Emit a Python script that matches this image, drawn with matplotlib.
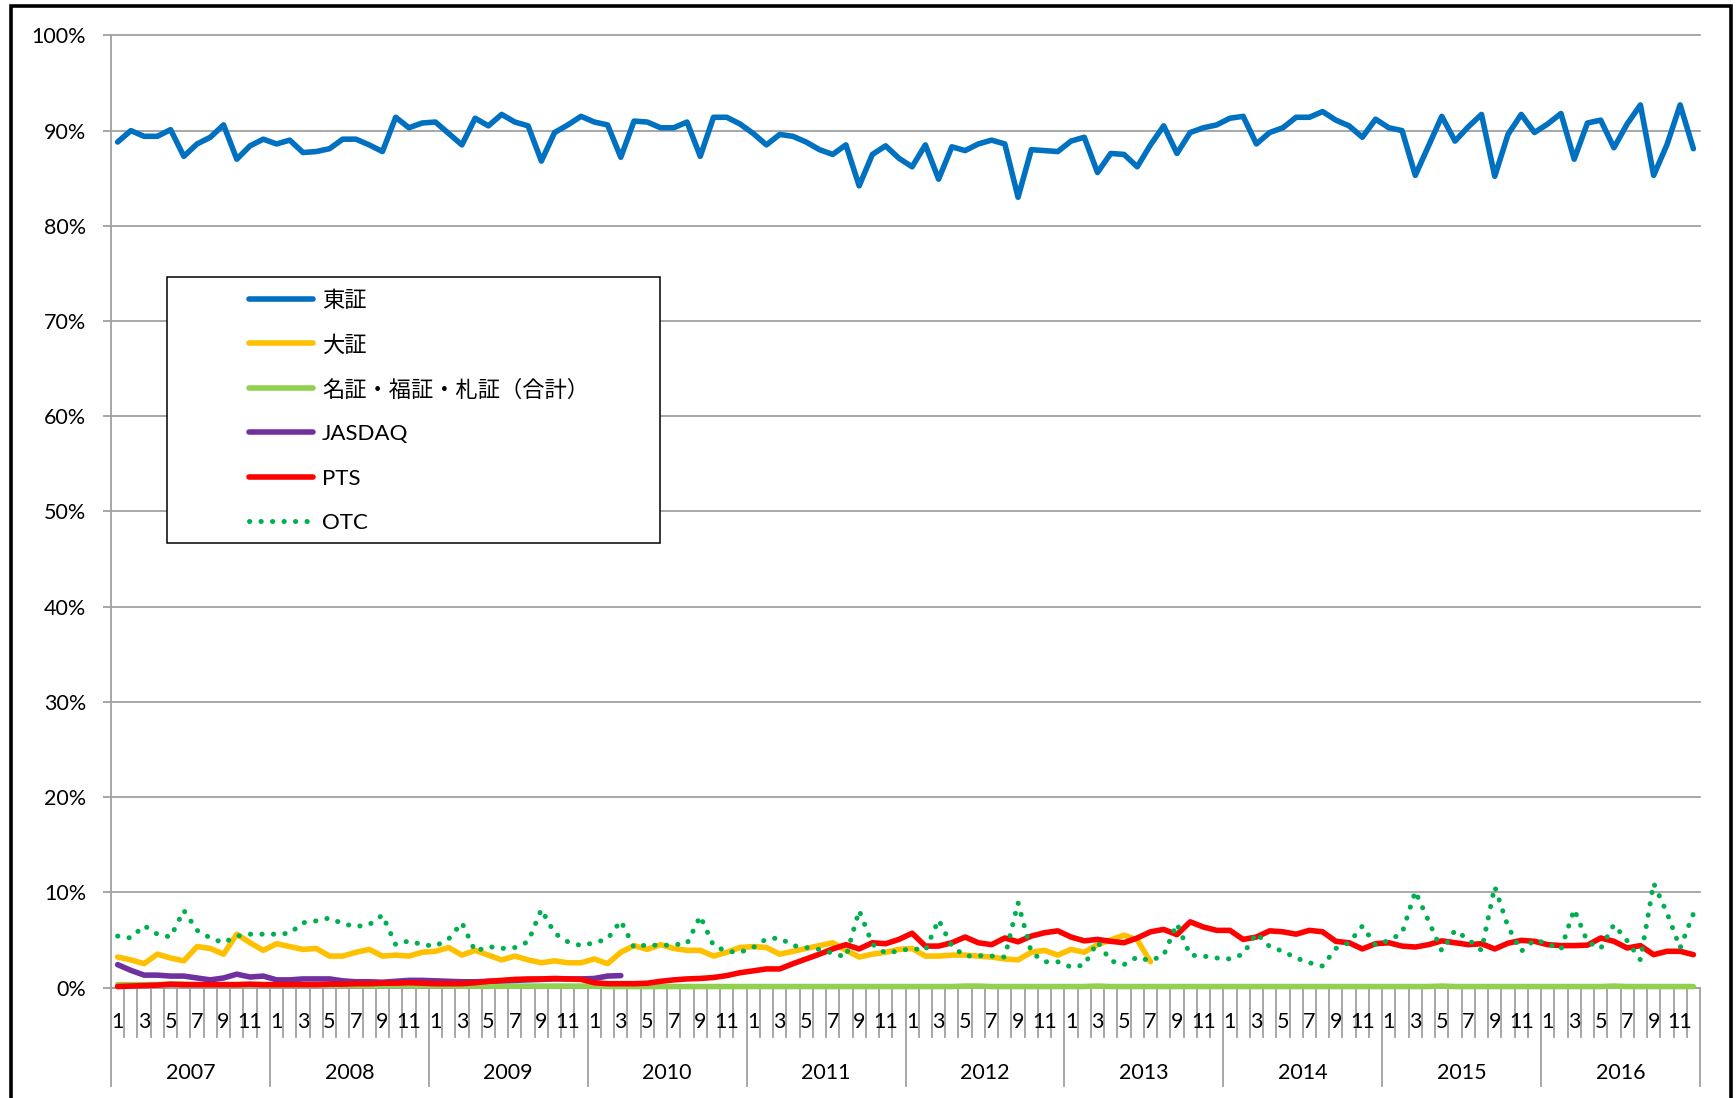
import numpy as np
import matplotlib
matplotlib.use("Agg")
import matplotlib.pyplot as plt
import matplotlib.transforms as mtransforms
from matplotlib.lines import Line2D
from matplotlib.patches import Rectangle
from matplotlib.ticker import FuncFormatter, MultipleLocator

plt.rcParams['font.family'] = ['Lato', 'Noto Sans CJK JP', 'DejaVu Sans']

# ---- data (monthly share of trading value, %) ----
years = [2007, 2008, 2009, 2010, 2011, 2012, 2013, 2014, 2015, 2016]
month_labels = ['1', '', '3', '', '5', '', '7', '', '9', '', '11', '']

series_names = ['東証', '大証', '名証・福証・札証（合計）', 'JASDAQ', 'PTS', 'OTC']

tse = [
    88.8, 90.0, 89.4, 89.4, 90.1, 87.3, 88.6, 89.3, 90.6, 87.0, 88.4, 89.1,
    88.6, 89.0, 87.7, 87.8, 88.1, 89.1, 89.1, 88.5, 87.8, 91.4, 90.3, 90.8,
    90.9, 89.7, 88.5, 91.3, 90.5, 91.7, 90.9, 90.5, 86.8, 89.8, 90.6, 91.5,
    90.9, 90.6, 87.2, 91.0, 90.9, 90.3, 90.3, 90.9, 87.3, 91.4, 91.4, 90.7,
    89.7, 88.5, 89.6, 89.4, 88.8, 88.0, 87.5, 88.5, 84.2, 87.5, 88.4, 87.1,
    86.2, 88.5, 84.9, 88.3, 87.9, 88.6, 89.0, 88.6, 83.0, 88.0, 87.9, 87.8,
    88.9, 89.3, 85.6, 87.6, 87.5, 86.2, 88.5, 90.5, 87.6, 89.8, 90.3, 90.6,
    91.3, 91.5, 88.6, 89.8, 90.3, 91.4, 91.4, 92.0, 91.1, 90.5, 89.3, 91.2,
    90.3, 90.0, 85.3, 88.4, 91.5, 88.9, 90.4, 91.7, 85.2, 89.6, 91.7, 89.8,
    90.7, 91.8, 87.0, 90.8, 91.1, 88.2, 90.7, 92.7, 85.3, 88.5, 92.7, 88.1,
]

ose = [
    3.2, 2.9, 2.5, 3.5, 3.1, 2.8, 4.3, 4.1, 3.5, 5.6, 4.7, 3.9,
    4.6, 4.3, 4.0, 4.1, 3.3, 3.3, 3.7, 4.0, 3.3, 3.4, 3.3, 3.7,
    3.8, 4.2, 3.4, 3.9, 3.4, 2.9, 3.3, 2.9, 2.6, 2.8, 2.6, 2.6,
    3.0, 2.5, 3.7, 4.4, 4.0, 4.5, 4.1, 3.9, 3.9, 3.3, 3.7, 4.2,
    4.3, 4.2, 3.5, 3.8, 4.1, 4.4, 4.7, 3.9, 3.2, 3.5, 3.7, 4.0,
    4.1, 3.3, 3.3, 3.4, 3.4, 3.3, 3.2, 3.0, 2.9, 3.7, 3.9, 3.4,
    4.0, 3.7, 4.5, 5.0, 5.5, 5.0, 2.7,
]

regional = [
    0.30, 0.30, 0.30, 0.30, 0.35, 0.35, 0.30, 0.30, 0.30, 0.30, 0.30, 0.30,
    0.25, 0.25, 0.25, 0.25, 0.25, 0.25, 0.20, 0.20, 0.20, 0.20, 0.20, 0.20,
    0.20, 0.20, 0.15, 0.15, 0.15, 0.15, 0.15, 0.15, 0.15, 0.15, 0.15, 0.15,
    0.15, 0.10, 0.10, 0.10, 0.10, 0.10, 0.10, 0.10, 0.10, 0.10, 0.10, 0.10,
    0.10, 0.10, 0.10, 0.10, 0.10, 0.10, 0.10, 0.10, 0.10, 0.10, 0.10, 0.10,
    0.10, 0.10, 0.10, 0.10, 0.15, 0.15, 0.10, 0.10, 0.10, 0.10, 0.10, 0.10,
    0.10, 0.10, 0.15, 0.10, 0.10, 0.10, 0.10, 0.10, 0.10, 0.10, 0.10, 0.10,
    0.10, 0.10, 0.10, 0.10, 0.10, 0.10, 0.10, 0.10, 0.10, 0.10, 0.10, 0.10,
    0.10, 0.10, 0.10, 0.10, 0.15, 0.10, 0.10, 0.10, 0.10, 0.10, 0.10, 0.10,
    0.10, 0.10, 0.10, 0.10, 0.10, 0.15, 0.10, 0.10, 0.10, 0.10, 0.10, 0.10,
]

jasdaq = [
    2.4, 1.8, 1.3, 1.3, 1.2, 1.2, 1.0, 0.8, 1.0, 1.4, 1.1, 1.2,
    0.8, 0.8, 0.9, 0.9, 0.9, 0.7, 0.6, 0.6, 0.55, 0.65, 0.75, 0.75,
    0.7, 0.65, 0.6, 0.6, 0.65, 0.7, 0.75, 0.8, 0.85, 0.9, 0.9, 0.9,
    0.95, 1.2, 1.25,
]

pts = [
    0.1, 0.15, 0.2, 0.25, 0.35, 0.3, 0.3, 0.3, 0.3, 0.3, 0.35, 0.3,
    0.3, 0.3, 0.3, 0.3, 0.35, 0.35, 0.4, 0.4, 0.45, 0.45, 0.5, 0.45,
    0.4, 0.4, 0.4, 0.5, 0.65, 0.75, 0.85, 0.9, 0.9, 0.95, 0.9, 0.85,
    0.5, 0.4, 0.4, 0.4, 0.45, 0.65, 0.8, 0.9, 0.95, 1.05, 1.25, 1.55,
    1.75, 1.95, 1.95, 2.5, 3.0, 3.5, 4.05, 4.5, 4.05, 4.7, 4.6, 5.05,
    5.7, 4.35, 4.35, 4.7, 5.3, 4.7, 4.5, 5.2, 4.8, 5.4, 5.75, 5.95,
    5.3, 4.9, 5.05, 4.85, 4.7, 5.2, 5.85, 6.1, 5.55, 6.9, 6.35, 6.0,
    6.0, 5.05, 5.3, 5.95, 5.85, 5.6, 6.0, 5.85, 4.85, 4.7, 4.05, 4.6,
    4.7, 4.35, 4.25, 4.5, 4.9, 4.7, 4.5, 4.6, 4.05, 4.65, 4.95, 4.85,
    4.5, 4.4, 4.4, 4.45, 5.2, 4.85, 4.15, 4.4, 3.45, 3.8, 3.8, 3.45,
]

otc = [
    5.4, 5.2, 6.5, 5.6, 5.3, 8.1, 6.0, 5.2, 4.7, 5.4, 5.6, 5.6,
    5.6, 5.7, 6.8, 7.0, 7.3, 6.7, 6.4, 6.6, 7.6, 4.5, 4.9, 4.5,
    4.35, 5.1, 6.8, 3.8, 4.3, 4.1, 4.2, 4.8, 8.2, 5.7, 4.8, 4.4,
    4.7, 5.1, 7.0, 4.2, 4.5, 4.4, 4.5, 4.6, 7.5, 4.4, 3.8, 3.7,
    4.2, 5.1, 5.2, 4.4, 4.2, 4.0, 3.6, 3.2, 8.1, 4.55, 3.6, 3.85,
    4.1, 3.9, 7.1, 4.35, 3.3, 3.35, 3.3, 3.2, 8.9, 3.7, 2.7, 2.7,
    2.15, 2.35, 4.8, 2.8, 2.4, 3.2, 2.8, 3.4, 6.7, 3.4, 3.3, 3.1,
    3.0, 3.5, 5.7, 4.3, 3.8, 3.1, 2.6, 2.25, 4.1, 4.7, 6.45, 4.45,
    4.95, 5.7, 10.1, 7.0, 3.85, 6.0, 5.05, 3.9, 10.6, 6.4, 3.8, 5.0,
    4.6, 4.0, 8.2, 4.8, 4.1, 6.6, 4.9, 2.9, 10.95, 7.85, 4.15, 7.75,
]

colors = ['#0070C0', '#FFC000', '#92D050', '#7030A0', '#FF0000', '#00B050']
all_series = [tse, ose, regional, jasdaq, pts, otc]

# ---- figure geometry (pixels) ----
W, H = 1736, 1098
DPI = 100
GRID = '#a0a0a0'
LW = 4.0                       # solid series width (pt)
DOT_LW = 3.6                   # dotted series width (pt)
DOTS = (0, (0.05, 2.25))       # round-capped dots


def fx(x):
    return x / W


def fy(y):
    return 1 - y / H


fig = plt.figure(figsize=(W / DPI, H / DPI), dpi=DPI)
fig.patch.set_facecolor('white')

ax_left, ax_right, ax_top, ax_bottom = 111, 1700, 35.4, 987.5
ax = fig.add_axes([fx(ax_left), fy(ax_bottom),
                   (ax_right - ax_left) / W, (ax_bottom - ax_top) / H])
ax.set_xlim(-0.5, 119.5)
ax.set_ylim(0, 100)

ax.yaxis.set_major_locator(MultipleLocator(10))
ax.yaxis.set_major_formatter(FuncFormatter(lambda v, _: f"{v:.0f}%"))
ax.grid(axis='y', color=GRID, lw=1.3)
ax.set_axisbelow(True)
for gl in ax.get_ygridlines():
    gl.set_clip_on(False)
for s in ('top', 'right'):
    ax.spines[s].set_visible(False)
for s in ('left', 'bottom'):
    ax.spines[s].set_color(GRID)
    ax.spines[s].set_linewidth(1.3)
ax.tick_params(axis='y', length=6, width=1.3, color=GRID, pad=12,
               labelsize=15.5, labelcolor='black')
ax.set_xticks([])

# ---- series ----
for name, vals, col in zip(series_names, all_series, colors):
    x = np.arange(len(vals))
    if name == 'OTC':
        ax.plot(x, vals, color=col, lw=DOT_LW, linestyle=DOTS,
                dash_capstyle='round', clip_on=False, zorder=3)
    else:
        ax.plot(x, vals, color=col, lw=LW, solid_joinstyle='round',
                solid_capstyle='round', clip_on=False, zorder=3)

# ---- two-level category axis (months / years) ----
ax_h = ax_bottom - ax_top
trans = mtransforms.blended_transform_factory(ax.transData, ax.transAxes)
month_sep = -(1037 - ax_bottom) / ax_h
year_sep = -(1086 - ax_bottom) / ax_h
for k in range(121):
    bottom = year_sep if k % 12 == 0 else month_sep
    ax.plot([k - 0.5, k - 0.5], [0, bottom], transform=trans, color=GRID,
            lw=1.3, clip_on=False, zorder=1)

n_months = 12 * len(years)
for i in range(n_months):
    lab = month_labels[i % 12]
    if lab:
        ax.text(i, -(1020 - ax_bottom) / ax_h, lab, transform=trans,
                ha='center', va='center_baseline', fontsize=15.5)
for j, yr in enumerate(years):
    ax.text(12 * j + 5.5, -(1071 - ax_bottom) / ax_h, str(yr), transform=trans,
            ha='center', va='center_baseline', fontsize=15.5)

# ---- legend box ----
lg_l, lg_r, lg_t, lg_b = 166.7, 660, 276.7, 543.3
fig.add_artist(Rectangle((fx(lg_l), fy(lg_b)), (lg_r - lg_l) / W, (lg_b - lg_t) / H,
                         transform=fig.transFigure, facecolor='white',
                         edgecolor='black', lw=1.1, zorder=5))
row0, row_step = 299, 44.4
for k, (name, col) in enumerate(zip(series_names, colors)):
    yy = fy(row0 + k * row_step)
    if name == 'OTC':
        ln = Line2D([fx(249), fx(310)], [yy, yy], transform=fig.transFigure,
                    color=col, lw=DOT_LW, linestyle=DOTS,
                    dash_capstyle='round', zorder=6)
    else:
        ln = Line2D([fx(249), fx(313)], [yy, yy], transform=fig.transFigure,
                    color=col, lw=LW, solid_capstyle='round', zorder=6)
    fig.add_artist(ln)
    fig.text(fx(322), yy, name, ha='left', va='center_baseline', fontsize=16,
             zorder=6)

# ---- outer chart frame ----
fig.add_artist(Rectangle((fx(11), fy(1110)), (1731 - 11) / W, (1110 - 6) / H,
                         transform=fig.transFigure, fill=False,
                         edgecolor='black', lw=2.6, clip_on=False, zorder=10))

fig.savefig('out.png', dpi=DPI)
